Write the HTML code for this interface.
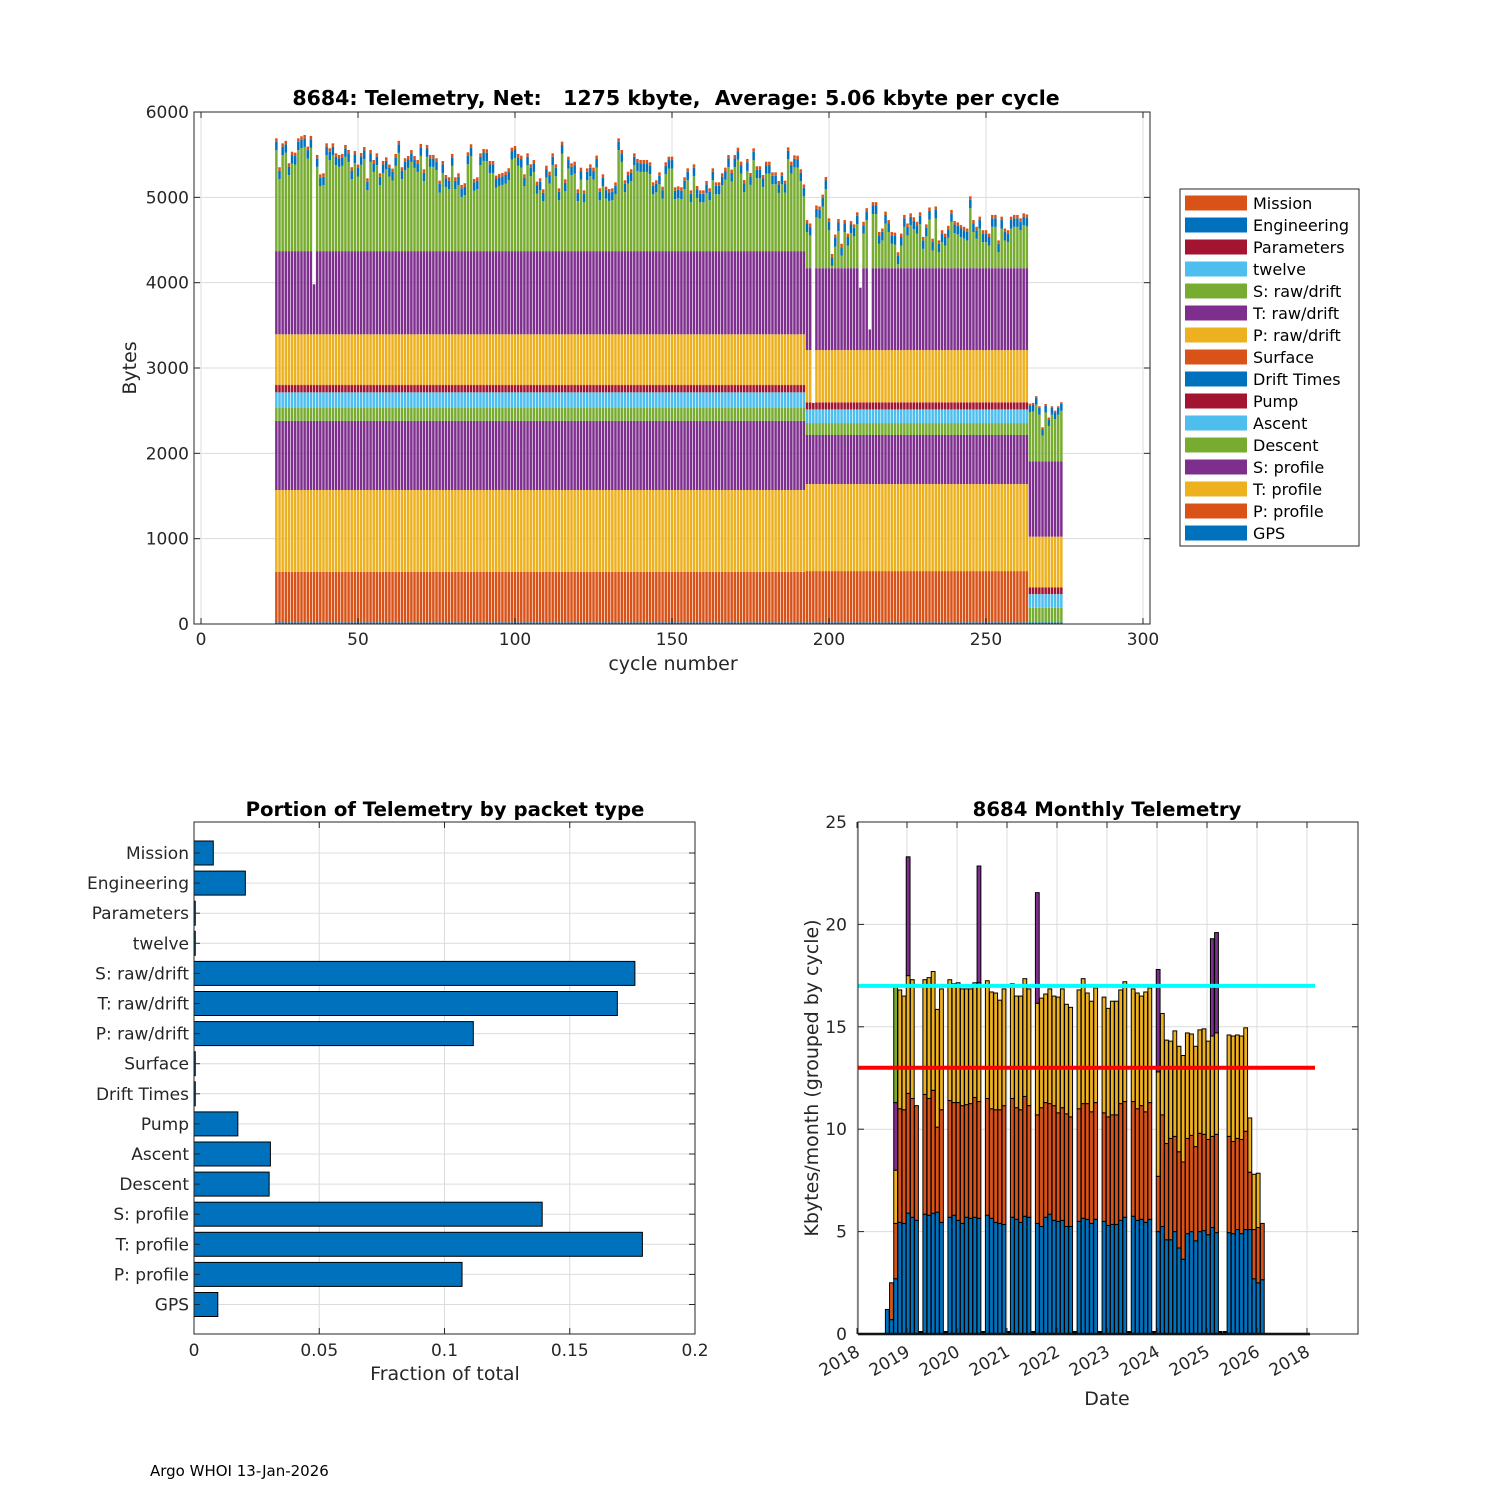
<!DOCTYPE html>
<html><head><meta charset="utf-8"><style>
html,body{margin:0;padding:0;background:#fff;}
svg{display:block;font-family:"DejaVu Sans","Liberation Sans",sans-serif;}
</style></head><body>
<svg id="fig" width="1500" height="1500" viewBox="0 0 1500 1500" xmlns="http://www.w3.org/2000/svg">
<rect x="0" y="0" width="1500" height="1500" fill="#fff"/>
<text x="150" y="1476" font-size="15" fill="#000">Argo WHOI 13-Jan-2026</text>
</svg>
<script>
// ---------- TOP CHART DATA ----------
const layerNames = ['GPS','P: profile','T: profile','S: profile','Descent','Ascent','Pump','Drift Times','Surface','P: raw/drift','T: raw/drift','S: raw/drift','twelve','Parameters','Engineering','Mission'];
const layerColors = ['#0072BD','#D95319','#EDB120','#7E2F8E','#77AC30','#4DBEEE','#A2142F','#0072BD','#D95319','#EDB120','#7E2F8E','#77AC30','#4DBEEE','#A2142F','#0072BD','#D95319'];
const eraStartCycles = [24,193,264];
const era1Bytes = [20,590,960,810,160,175,85,0,5,590,975,null,0,0,100,40];
const era2Bytes = [20,600,1020,575,140,160,80,0,5,610,960,null,0,0,100,40];
const era3Bytes = [20,0,0,0,170,160,80,0,0,594,881,null,0,0,80,20];
const firstCycle = 24;
const totalBytes = [
5692,5353,5633,5662,5400,5535,5524,5692,5716,5731,
5594,5720,3981,5497,5270,5282,5633,5575,5633,5516,
5497,5509,5614,5555,5353,5543,5384,5520,5590,5223,
5555,5438,5516,5282,5426,5469,5384,5337,5509,5662,
5353,5458,5485,5555,5485,5438,5626,5329,5614,5497,
5497,5458,5196,5426,5262,5235,5509,5235,5282,5145,
5165,5528,5622,5216,5235,5516,5567,5563,5426,5426,
5255,5274,5286,5302,5341,5582,5602,5509,5489,5270,
5516,5388,5438,
5184,5223,5094,5371,5301,5516,5387,5106,5653,5211,
5477,5399,5418,5094,5348,5082,5340,5387,5348,5489,
5106,5270,5125,5098,5106,5176,5692,5555,5200,5301,
5329,5516,5450,5438,5438,5438,5411,5176,5200,5293,
5125,5411,5477,5477,5118,5129,5118,5235,5340,5082,
5387,5133,5082,5082,5192,5106,5340,5176,5176,5282,
5348,5496,5325,5496,5582,5418,5203,5450,5286,5575,
5364,5364,5262,5418,5418,5293,5293,5192,5293,5196,
5586,5418,5492,
5488,5329,5151,
4734,4694,2591,
4905,4893,5032,5238,4754,4337,4564,4746,4456,4734,
4575,4722,4683,4825,3941,4714,4873,3452,4944,4944,
4595,4635,4833,4734,4595,4587,4357,4575,4794,4694,
4813,4766,4714,4825,4536,4683,4881,4516,4893,4496,
4615,4575,4667,4853,4722,4706,4675,4655,4635,5012,
4734,4655,4774,4615,4615,4575,4794,4794,4496,4774,
4635,4615,4774,4794,4794,4754,4813,4800,
2583,2591,2671,2552,2306,2579,2420,2552,2500,2552,2599];
const topXTicks = [0,50,100,150,200,250,300];
const topYTicks = [0,1000,2000,3000,4000,5000,6000];

// ---------- PORTION DATA ----------
const portionCats = ['Mission','Engineering','Parameters','twelve','S: raw/drift','T: raw/drift','P: raw/drift','Surface','Drift Times','Pump','Ascent','Descent','S: profile','T: profile','P: profile','GPS'];
const portionVals = [0.0077,0.0205,0.0005,0.0005,0.176,0.169,0.1115,0.0005,0.0005,0.0175,0.0305,0.030,0.139,0.179,0.107,0.0095];
const portionXTicks = [0,0.05,0.1,0.15,0.2];
const portionXLabels = ['0','0.05','0.1','0.15','0.2'];

// ---------- MONTHLY DATA (stack tops, kbytes) ----------
const blueTop = [1.2,0.7,2.7,5.45,5.4,5.9,5.7,5.55,0,5.85,5.8,5.9,5.95,5.45,0,5.7,5.8,5.55,5.4,5.7,5.65,5.7,5.65,0,5.8,5.65,5.45,5.4,5.35,0,5.7,5.6,5.45,5.75,5.7,0,5.4,5.25,5.7,5.85,5.55,5.5,5.55,5.25,5.25,0,5.5,5.65,5.6,5.4,5.6,0,5.5,5.3,5.35,5.35,5.55,5.7,0,5.75,5.55,5.6,5.45,5.6,0,5.0,5.25,4.6,4.6,5.0,4.2,3.65,4.9,5.0,4.55,5.0,5.05,4.85,5.2,4.95,0,0,4.95,4.9,5.1,4.9,5.1,5.1,2.7,2.5,2.65];
const orangeTop = [0,2.5,5.4,11.0,10.95,11.75,11.5,11.15,0,11.7,11.5,11.9,10.1,10.95,0,11.4,11.3,11.3,11.15,11.2,11.25,11.55,11.35,0,11.5,11.0,10.95,10.95,11.15,0,11.5,11.05,10.95,11.6,11.15,0,10.7,11.05,11.3,11.25,11.15,10.8,11.05,10.75,10.6,0,11.0,11.25,11.25,10.85,11.3,0,10.8,10.6,10.7,10.7,11.25,11.35,0,11.35,11.0,11.15,10.85,11.3,0,7.7,10.7,9.3,9.55,9.65,8.9,8.4,9.55,9.7,9.15,9.8,9.75,9.5,9.65,9.75,0,0,9.65,9.4,9.55,9.5,9.9,7.9,5.1,5.2,5.4];
const yellowTop = [0,0,8.0,16.8,16.5,17.5,17.3,0,0,17.3,17.4,17.7,15.85,16.85,0,17.3,17.1,17.15,16.85,16.85,16.85,17.15,17.15,0,17.25,16.7,16.65,16.3,16.85,0,17.1,16.5,16.5,17.35,16.85,0,16.15,16.4,16.6,16.85,16.5,16.45,16.85,16.1,15.95,0,16.8,17.35,16.65,16.25,16.9,0,16.45,15.9,16.25,16.25,16.8,17.2,0,16.85,16.65,16.5,16.7,16.9,0,12.8,15.65,14.35,14.3,14.8,14.05,13.6,14.7,14.65,14.05,14.85,14.9,14.3,14.55,14.7,0,0,14.6,14.55,14.6,14.55,14.95,10.55,7.8,7.85,0];
const purpleTop = [0,0,11.3,0,0,23.3,0,0,0,0,0,0,0,0,0,0,0,0,0,0,0,0,22.85,0,0,0,0,0,0,0,0,0,0,0,0,0,21.55,0,0,0,0,0,0,0,0,0,0,0,0,0,0,0,0,0,0,0,0,0,0,0,0,0,0,0,0,17.8,0,0,0,0,0,0,0,0,0,0,0,0,19.3,19.6,0,0,0,0,0,0,0,0,0,0,0];
const greenTop = [0,0,17.0,0,0,0,0,0,0,0,0,0,0,0,0,0,0,0,0,0,0,0,0,0,0,0,0,0,0,0,0,0,0,0,0,0,0,0,0,0,0,0,0,0,0,0,0,0,0,0,0,0,0,0,0,0,0,0,0,0,0,0,0,0,0,0,0,0,0,0,0,0,0,0,0,0,0,0,0,0,0,0,0,0,0,0,0,0,0,0,0];
const monthlyYTicks = [0,5,10,15,20,25];
const dateTickLabels = ['2018','2019','2020','2021','2022','2023','2024','2025','2026','2018'];
const cyanLevel = 17;
const redLevel = 13;

// ---------- helpers ----------
const NS='http://www.w3.org/2000/svg';
const svg=document.getElementById('fig');
function mk(tag, attrs, parent){const e=document.createElementNS(NS,tag);for(const k in attrs)e.setAttribute(k,attrs[k]);(parent||svg).appendChild(e);return e;}
function txt(s, attrs, parent){const e=mk('text',attrs,parent);e.textContent=s;return e;}

// ================= TOP CHART =================
const T={l:194,r:1150,t:112,b:624};
const xT=v=>201+v*3.14;
const yT=v=>624-v*0.08533;
const gTop=mk('g',{});


mk('rect',{x:T.l,y:T.t,width:T.r-T.l,height:T.b-T.t,fill:'#fff'},gTop);
topXTicks.forEach(v=>{const l=mk('line',{x1:xT(v),x2:xT(v),y1:T.t,y2:T.b,stroke:'#dcdcdc','stroke-width':1},gTop);

});
topYTicks.forEach(v=>{const l=mk('line',{x1:T.l,x2:T.r,y1:yT(v),y2:yT(v),stroke:'#dcdcdc','stroke-width':1},gTop);

});
const barsG=mk('g',{},gTop);


totalBytes.forEach((tot,i)=>{
  const c=firstCycle+i;
  const era = c>=eraStartCycles[2]?era3Bytes:(c>=eraStartCycles[1]?era2Bytes:era1Bytes);
  let fixed=0; era.forEach(v=>{if(v!==null)fixed+=v;});
  let cum=0;
  era.forEach((v,k)=>{
    let val = v===null ? Math.max(0,tot-fixed) : v;
    if(val<=0) return;
    let top=Math.min(tot,cum+val);
    if(top<=cum) return;
    const r=mk('rect',{x:xT(c)-1.25,y:yT(top),width:2.5,height:yT(cum)-yT(top),fill:layerColors[k]},barsG);
    
    
    cum=top;
  });
});
mk('rect',{x:T.l,y:T.t,width:T.r-T.l,height:T.b-T.t,fill:'none',stroke:'#262626','stroke-width':1},gTop);
topXTicks.forEach(v=>{
  mk('line',{x1:xT(v),x2:xT(v),y1:T.b,y2:T.b-6,stroke:'#262626'},gTop);
  mk('line',{x1:xT(v),x2:xT(v),y1:T.t,y2:T.t+6,stroke:'#262626'},gTop);
  const t=txt(String(v),{x:xT(v),y:645,'font-size':17,'text-anchor':'middle',fill:'#262626'},gTop);
  
  
});
topYTicks.forEach(v=>{
  mk('line',{x1:T.l,x2:T.l+6,y1:yT(v),y2:yT(v),stroke:'#262626'},gTop);
  mk('line',{x1:T.r,x2:T.r-6,y1:yT(v),y2:yT(v),stroke:'#262626'},gTop);
  const t=txt(String(v),{x:189,y:yT(v)+6,'font-size':17,'text-anchor':'end',fill:'#262626'},gTop);
  
  
});
let tt=txt('8684: Telemetry, Net:   1275 kbyte,  Average: 5.06 kbyte per cycle',{x:676,y:105,'font-size':20.5,'font-weight':'bold','text-anchor':'middle',fill:'#000'},gTop);
tt.setAttribute('style','white-space:pre');


tt=txt('cycle number',{x:673,y:670,'font-size':19,'text-anchor':'middle',fill:'#262626'},gTop);


tt=txt('Bytes',{x:0,y:0,'font-size':19,'text-anchor':'middle',fill:'#262626',transform:'translate(136,368) rotate(-90)'},gTop);


// legend
const leg=mk('g',{},gTop);


mk('rect',{x:1180,y:189,width:179,height:357,fill:'#fff',stroke:'#262626','stroke-width':1},leg);
for(let k=15;k>=0;k--){
  const row=15-k;
  const cy=203+row*22;
  const g=mk('g',{},leg);
  
  
  mk('rect',{x:1185,y:cy-7.5,width:62,height:15,fill:layerColors[k]},g);
  txt(layerNames[k],{x:1253,y:cy+6,'font-size':16,fill:'#000'},g);
}

// ================= PORTION CHART =================
const P={l:194,r:695,t:822,b:1334};
const xP=v=>194+v*2505;
const yP=k=>853+k*30.1;
const gP=mk('g',{});


portionXTicks.forEach(v=>{const l=mk('line',{x1:xP(v),x2:xP(v),y1:P.t,y2:P.b,stroke:'#dcdcdc'},gP);

});
portionCats.forEach((c,k)=>{const l=mk('line',{x1:P.l,x2:P.r,y1:yP(k),y2:yP(k),stroke:'#dcdcdc'},gP);

});
portionCats.forEach((c,k)=>{
  const r=mk('rect',{x:xP(0),y:yP(k)-12,width:Math.max(0.5,xP(portionVals[k])-xP(0)),height:24,fill:'#0072BD',stroke:'#000','stroke-width':1},gP);
  
  
  mk('line',{x1:P.l,x2:P.l+6,y1:yP(k),y2:yP(k),stroke:'#262626'},gP);
  mk('line',{x1:P.r,x2:P.r-6,y1:yP(k),y2:yP(k),stroke:'#262626'},gP);
  const t=txt(c,{x:189,y:yP(k)+6,'font-size':17,'text-anchor':'end',fill:'#262626'},gP);
  
  
});
mk('rect',{x:P.l,y:P.t,width:P.r-P.l,height:P.b-P.t,fill:'none',stroke:'#262626'},gP);
portionXTicks.forEach((v,i)=>{
  mk('line',{x1:xP(v),x2:xP(v),y1:P.b,y2:P.b-6,stroke:'#262626'},gP);
  mk('line',{x1:xP(v),x2:xP(v),y1:P.t,y2:P.t+6,stroke:'#262626'},gP);
  const t=txt(portionXLabels[i],{x:xP(v),y:1356,'font-size':17,'text-anchor':'middle',fill:'#262626'},gP);
  
  
});
tt=txt('Portion of Telemetry by packet type',{x:445,y:816,'font-size':19.7,'font-weight':'bold','text-anchor':'middle',fill:'#000'},gP);


tt=txt('Fraction of total',{x:445,y:1380,'font-size':19,'text-anchor':'middle',fill:'#262626'},gP);



// ================= MONTHLY CHART =================
const M={l:858,r:1358,t:822,b:1334};
const xM=i=>887.3+i*4.167;
const yM=v=>1334-v*20.48;
const tickX=k=>857+k*50;
const gM=mk('g',{});


dateTickLabels.forEach((s,k)=>{const l=mk('line',{x1:tickX(k),x2:tickX(k),y1:M.t,y2:M.b,stroke:'#dcdcdc'},gM);

});
monthlyYTicks.forEach(v=>{const l=mk('line',{x1:M.l,x2:M.r,y1:yM(v),y2:yM(v),stroke:'#dcdcdc'},gM);

});
const stacks=[[blueTop,'#0072BD'],[orangeTop,'#D95319'],[yellowTop,'#EDB120'],[purpleTop,'#7E2F8E'],[greenTop,'#77AC30']];
blueTop.forEach((b,i)=>{
  let prev=0;
  stacks.forEach(([arr,col])=>{
    const v=arr[i];
    if(v>prev){
      const r=mk('rect',{x:xM(i)-1.9,y:yM(v),width:3.8,height:yM(prev)-yM(v),fill:col,stroke:'#000','stroke-width':1},gM);
      
      
      prev=v;
    }
  });
  if(prev===0){
    const r=mk('rect',{x:xM(i)-1.9,y:1331,width:3.8,height:3,fill:'#000'},gM);
    
    
  }
});
mk('line',{x1:M.l,x2:1310,y1:1334,y2:1334,stroke:'#000','stroke-width':2.5},gM);
let hl=mk('line',{x1:M.l,x2:1315,y1:yM(cyanLevel),y2:yM(cyanLevel),stroke:'#00FFFF','stroke-width':4},gM);


hl=mk('line',{x1:M.l,x2:1315,y1:yM(redLevel),y2:yM(redLevel),stroke:'#FF0000','stroke-width':4},gM);


mk('rect',{x:M.l,y:M.t,width:M.r-M.l,height:M.b-M.t,fill:'none',stroke:'#262626'},gM);
monthlyYTicks.forEach(v=>{
  mk('line',{x1:M.l,x2:M.l+6,y1:yM(v),y2:yM(v),stroke:'#262626'},gM);
  mk('line',{x1:M.r,x2:M.r-6,y1:yM(v),y2:yM(v),stroke:'#262626'},gM);
  const t=txt(String(v),{x:847,y:yM(v)+6,'font-size':17,'text-anchor':'end',fill:'#262626'},gM);
  
  
});
dateTickLabels.forEach((s,k)=>{
  mk('line',{x1:tickX(k),x2:tickX(k),y1:M.b,y2:M.b-6,stroke:'#262626'},gM);
  mk('line',{x1:tickX(k),x2:tickX(k),y1:M.t,y2:M.t+6,stroke:'#262626'},gM);
  const t=txt(s,{x:0,y:0,'font-size':17,'text-anchor':'end',fill:'#262626',transform:'translate('+(tickX(k)+4)+',1355) rotate(-30)'},gM);
  
  
});
tt=txt('8684 Monthly Telemetry',{x:1107,y:816,'font-size':19.7,'font-weight':'bold','text-anchor':'middle',fill:'#000'},gM);


tt=txt('Date',{x:1107,y:1405,'font-size':19,'text-anchor':'middle',fill:'#262626'},gM);


tt=txt('Kbytes/month (grouped by cycle)',{x:0,y:0,'font-size':19,'text-anchor':'middle',fill:'#262626',transform:'translate(818,1078) rotate(-90)'},gM);


</script>
</body></html>
